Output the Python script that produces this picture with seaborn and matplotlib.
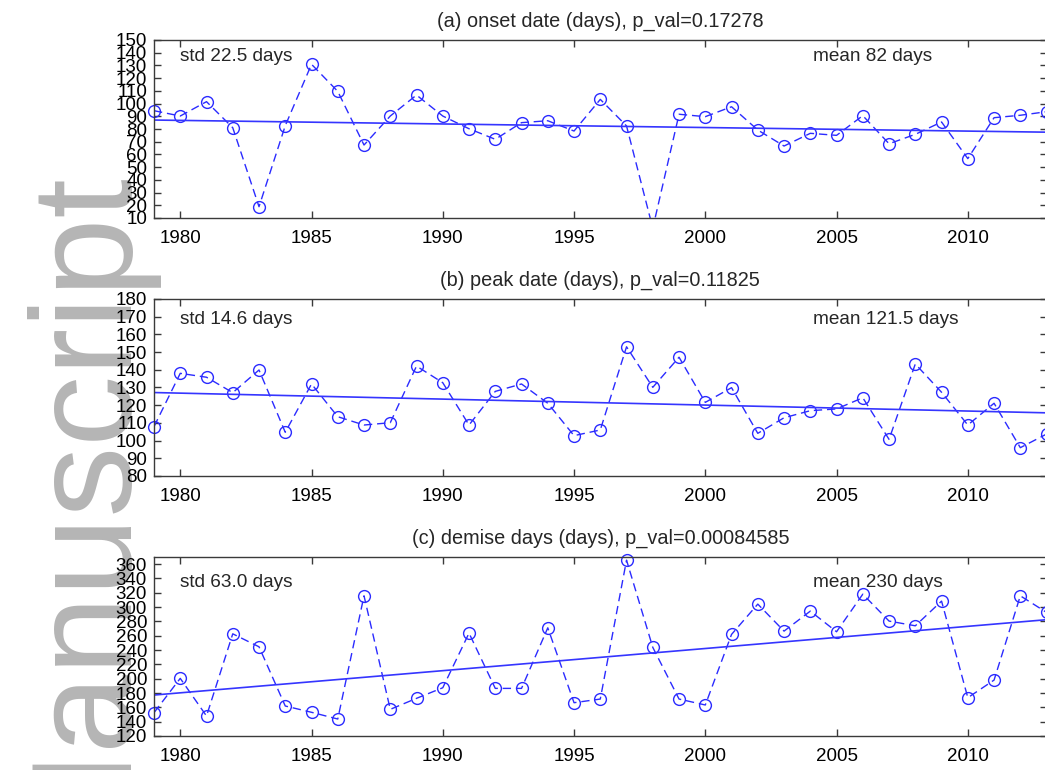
import numpy as np
import pandas as pd
import matplotlib
matplotlib.use("Agg")
import matplotlib.pyplot as plt
import seaborn as sns

# ---------------- data ----------------
years = list(range(1979, 2014))

onset = [94.4, 90.2, 101.5, 81.0, 18.9, 82.6, 130.9, 109.6, 67.4, 90.2,
         106.7, 90.2, 80.2, 71.9, 85.0, 86.5, 78.4, 103.3, 82.4, 2.0,
         91.6, 89.7, 97.5, 79.2, 66.6, 76.6, 75.0, 90.5, 68.4, 75.8,
         85.5, 56.7, 88.9, 90.8, 93.6]

peak = [107.9, 138.0, 135.8, 127.1, 139.9, 104.7, 132.0, 113.5, 108.8, 110.1,
        142.1, 132.7, 108.8, 127.8, 132.0, 121.1, 102.8, 106.0, 153.0, 130.1,
        147.1, 121.6, 129.9, 104.1, 112.9, 116.9, 117.9, 124.2, 100.7, 143.3,
        127.3, 108.8, 121.1, 96.0, 103.7]

demise = [152.6, 200.5, 147.9, 262.7, 244.6, 161.9, 153.1, 143.7, 315.8, 157.2,
          172.6, 187.4, 263.7, 186.5, 186.5, 271.1, 166.5, 171.6, 365.6, 243.8,
          171.6, 163.3, 261.9, 304.2, 266.5, 294.4, 265.6, 318.1, 280.5, 273.9,
          308.4, 173.5, 198.1, 315.8, 292.6]

titles = ["(a) onset date (days), p_val=0.17278",
          "(b) peak date (days), p_val=0.11825",
          "(c) demise days (days), p_val=0.00084585"]
std_labels = ["std 22.5 days", "std 14.6 days", "std 63.0 days"]
mean_labels = ["mean 82 days", "mean 121.5 days", "mean 230 days"]
xticks = [1980, 1985, 1990, 1995, 2000, 2005, 2010]
yticks_a = list(range(10, 151, 10))
yticks_b = list(range(80, 181, 10))
yticks_c = list(range(120, 361, 20))

# ---------------- style ----------------
sns.set_style("ticks")
plt.rcParams['font.family'] = ['Liberation Sans', 'DejaVu Sans']
plt.rcParams['axes.edgecolor'] = '#3a3a3a'
plt.rcParams['axes.linewidth'] = 1.0

W, H = 1045, 770
fig = plt.figure(figsize=(W / 100, H / 100), dpi=100)

# watermark
fig.text(120 / W, 1 - 166 / H, "Manuscript", rotation=90, rotation_mode='anchor',
         ha='right', va='baseline', fontsize=102, color='#b5b5b5', zorder=-5)

left = 154 / W
panels = [
    dict(vals=onset, ylim=(10, 150), yticks=yticks_a, top=40, bot=218, tfrac=0.884),
    dict(vals=peak, ylim=(80, 180), yticks=yticks_b, top=299, bot=476, tfrac=0.857),
    dict(vals=demise, ylim=(120, 370), yticks=yticks_c, top=557, bot=736, tfrac=0.834),
]

line_col = '#2b2bff'
for i, p in enumerate(panels):
    ax = fig.add_axes([left, 1 - p['bot'] / H, 1.0015 - left, (p['bot'] - p['top']) / H])
    ax.set_facecolor('none')
    df = pd.DataFrame({'year': years, 'val': p['vals']})
    lo, hi = p['ylim']
    # dashed series line
    sns.lineplot(data=df, x='year', y='val', ax=ax, color=line_col, lw=1.0,
                 linestyle=(0, (6, 3.5)), estimator=None, sort=False)
    # open circle markers (only those inside the y range, not clipped at edges)
    inside = df[(df['val'] >= lo) & (df['val'] <= hi)]
    sns.lineplot(data=inside, x='year', y='val', ax=ax, color=line_col,
                 linestyle='none', marker='o', markersize=8.5, markerfacecolor='none',
                 markeredgecolor=line_col, markeredgewidth=1.0, estimator=None,
                 sort=False, clip_on=False)
    # linear trend
    sns.regplot(data=df, x='year', y='val', ax=ax, scatter=False, ci=None,
                line_kws=dict(color='#3535ff', lw=1.2))
    ax.set_xlim(1979, 2013)
    ax.set_ylim(lo, hi)
    ax.set_xticks(xticks)
    ax.set_yticks(p['yticks'])
    ax.set_xlabel('')
    ax.set_ylabel('')
    ax.tick_params(direction='in', length=5, width=1, color='#3a3a3a',
                   top=True, right=True, labelsize=13.5, labelcolor='black')
    ax.tick_params(axis='y', pad=5)
    ax.tick_params(axis='x', pad=8.5)
    for s in ax.spines.values():
        s.set_visible(True)
    ax.set_title(titles[i], fontsize=14.3, pad=9.5)
    ax.text(1980, p['tfrac'], std_labels[i], transform=ax.get_xaxis_transform(),
            ha='left', va='baseline', fontsize=13.7)
    ax.text(2004.1, p['tfrac'], mean_labels[i], transform=ax.get_xaxis_transform(),
            ha='left', va='baseline', fontsize=13.7)

fig.savefig("out.png", dpi=100)
